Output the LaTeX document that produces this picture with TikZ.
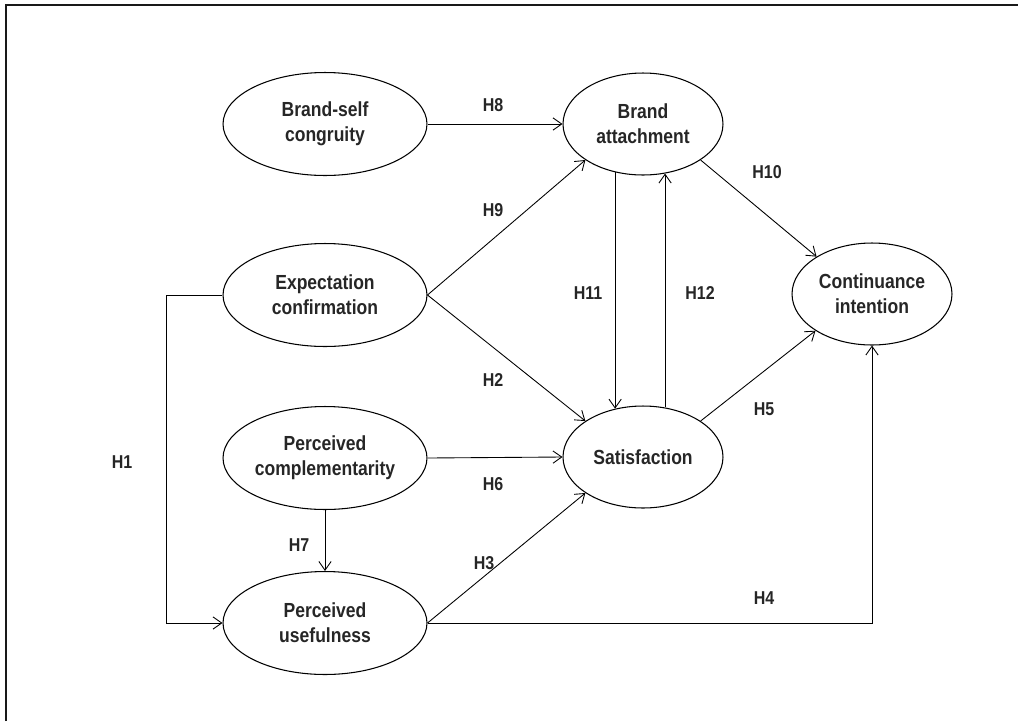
\documentclass[tikz,border=0pt]{standalone}
\usepackage{fontspec}
\setmainfont{Liberation Sans}[FakeStretch=0.86]
\usetikzlibrary{shapes.geometric}
\usetikzlibrary{arrows.meta}
\tikzset{construct/.style={ellipse, draw, line width=0.6pt, align=center,
			inner sep=0pt, font=\bfseries\fontsize{11.6}{14.2}\selectfont, text=black!85},
	wide/.style={construct, minimum width=4.08cm, minimum height=2.06cm},
	narrow/.style={construct, minimum width=3.2cm, minimum height=2.04cm},
	hyp/.style={font=\bfseries\fontsize{10.6}{12}\selectfont, text=black!85},
	link/.style={-{Straight Barb[length=5pt,width=7pt]}, line width=0.5pt}}

\begin{document}
\begin{tikzpicture}[x=0.02cm,y=-0.02cm]
		\useasboundingbox (0,0) rectangle (1018,721);
		\draw[line width=1.1pt, black!90] (6,721) -- (6,5) -- (1018,5);
		
		% constructs
		\node[wide] (bsc) at (325,124) {Brand-self\\congruity};
		\node[wide] (ec) at (325,295) {Expectation\\confirmation};
		\node[wide] (pc) at (325,458) {Perceived\\complementarity};
		\node[wide] (pu) at (325,623) {Perceived\\usefulness};
		\node[narrow] (ba) at (643,124) {Brand\\attachment};
		\node[narrow] (sat) at (643,457) {Satisfaction};
		\node[narrow] (ci) at (872,294) {Continuance\\intention};
		\coordinate (h1) at (166,295);
		
		% paths
		\draw[link] (bsc.east) -- (ba.west);
		\draw[link] (ec.east) -- (ba.212);
		\draw[link] (ec.east) -- (sat.148);
		\draw[link] (pc.east) -- (sat.west);
		\draw[link] (pc.south) -- (pu.north);
		\draw[link] (pu.east) -- (sat.212);
		\draw[link] (ba.240) -- (sat.120);
		\draw[link] (sat.66) -- (ba.294);
		\draw[link] (ba.328) -- (ci.146);
		\draw[link] (sat.32) -- (ci.213);
		\draw[link] (ec.west) -- (h1) |- (pu.west);
		\draw[link] (pu.east) -| (ci.south);
		
		% hypotheses
		\node[hyp] (l1) at (122,462) {H1};
		\node[hyp] (l2) at (493,380) {H2};
		\node[hyp] (l3) at (484,563) {H3};
		\node[hyp] (l4) at (764,598) {H4};
		\node[hyp] (l5) at (764,409) {H5};
		\node[hyp] (l6) at (493,484) {H6};
		\node[hyp] (l7) at (299,545) {H7};
		\node[hyp] (l8) at (493,105) {H8};
		\node[hyp] (l9) at (493,210) {H9};
		\node[hyp] (l10) at (767,172) {H10};
		\node[hyp] (l11) at (588,293) {H11};
		\node[hyp] (l12) at (700,293) {H12};
\end{tikzpicture}
\end{document}
